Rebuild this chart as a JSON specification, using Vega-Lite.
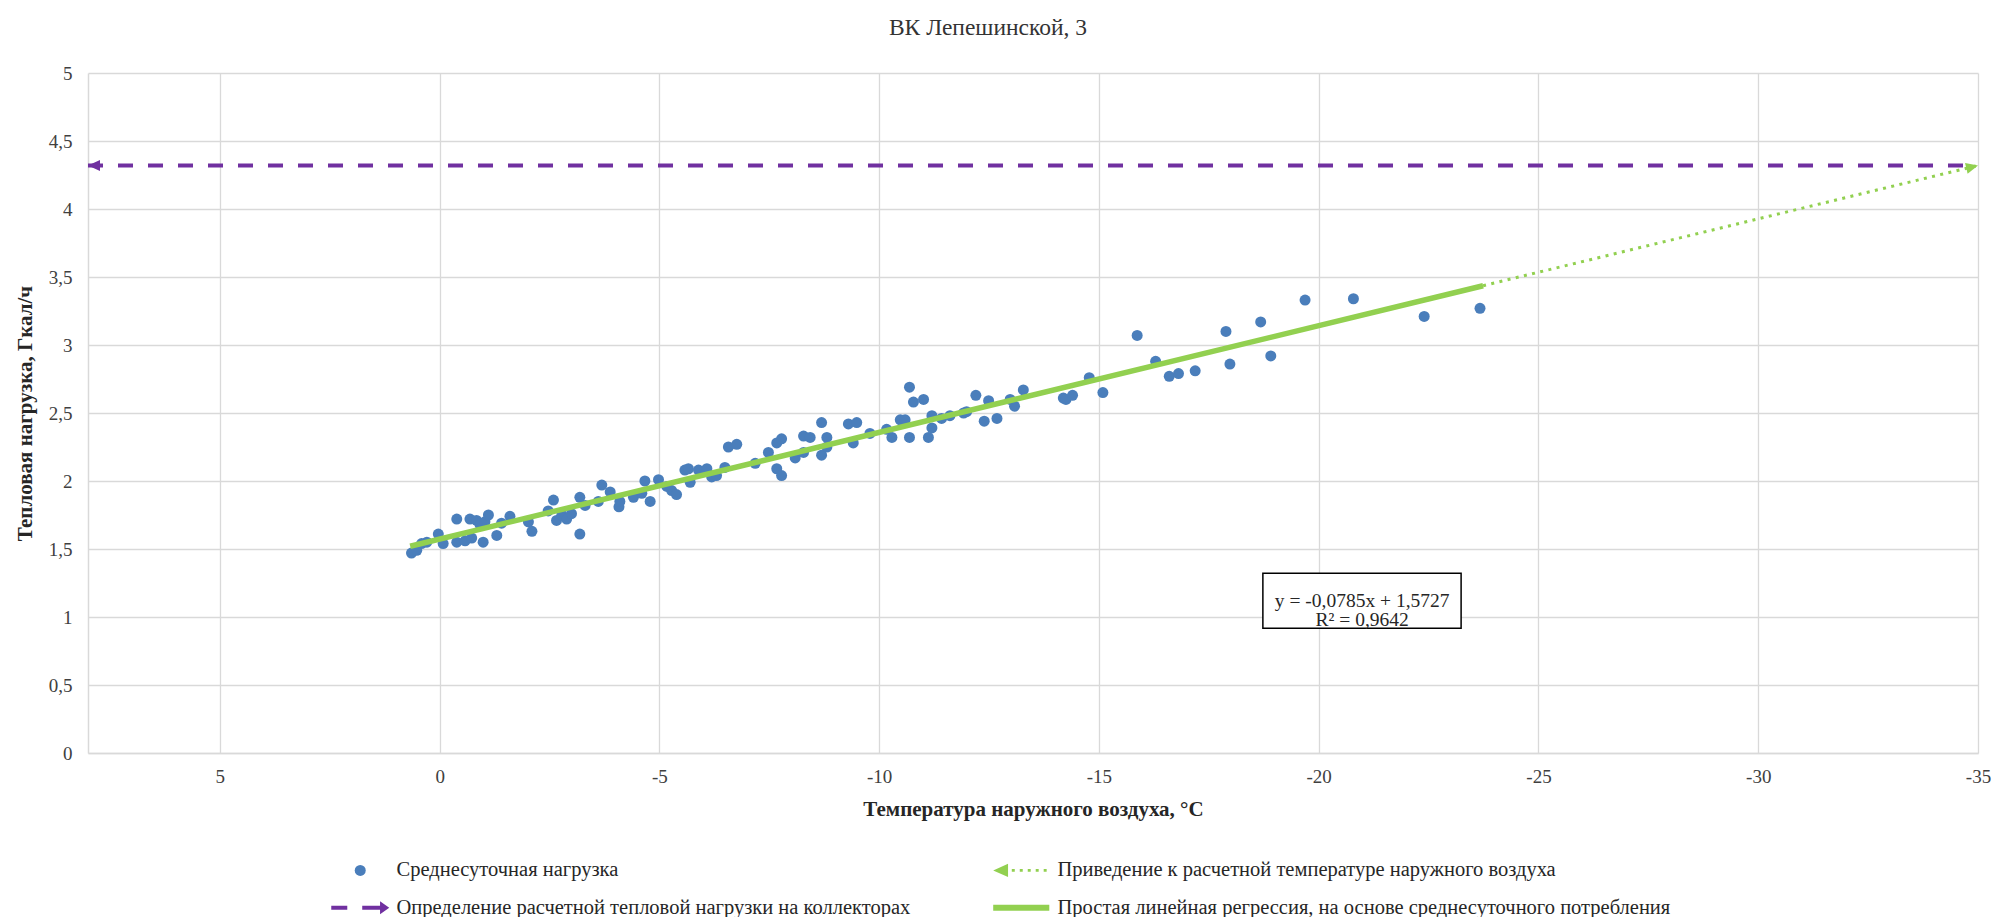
{
  "$schema": "https://vega.github.io/schema/vega-lite/v6.json",
  "autosize": "none",
  "width": 1890,
  "height": 680,
  "padding": {"left": 88, "top": 73, "right": 17, "bottom": 164},
  "background": "white",
  "title": {"text": "ВК Лепешинской, 3", "font": "Liberation Serif", "fontSize": 23.5, "fontWeight": "normal", "color": "#333333", "anchor": "middle", "frame": "group", "offset": 25, "dx": -45},
  "config": {
    "view": {"stroke": null},
    "axis": {"grid": true, "gridColor": "#d9d9d9", "gridWidth": 1.3, "domainColor": "#d9d9d9", "domainWidth": 1.5, "ticks": false, "labelFont": "Liberation Serif", "labelFontSize": 19, "labelColor": "#404040", "titleFont": "Liberation Serif", "titleFontSize": 21, "titleFontWeight": "bold", "titleColor": "#262626"}
  },
  "datasets": {
    "points": [
      {"t": 0.64, "v": 1.47}, {"t": 0.52, "v": 1.49}, {"t": 0.41, "v": 1.54}, {"t": 0.29, "v": 1.55}, {"t": 0.03, "v": 1.61},
      {"t": -0.08, "v": 1.54}, {"t": -0.39, "v": 1.72}, {"t": -0.39, "v": 1.55}, {"t": -0.58, "v": 1.56}, {"t": -0.69, "v": 1.72},
      {"t": -0.73, "v": 1.58}, {"t": -0.84, "v": 1.71}, {"t": -0.92, "v": 1.68}, {"t": -0.99, "v": 1.55}, {"t": -1.03, "v": 1.70},
      {"t": -1.11, "v": 1.75}, {"t": -1.30, "v": 1.60}, {"t": -1.41, "v": 1.69}, {"t": -1.60, "v": 1.74}, {"t": -2.02, "v": 1.70},
      {"t": -2.10, "v": 1.63}, {"t": -2.47, "v": 1.78}, {"t": -2.59, "v": 1.86}, {"t": -2.66, "v": 1.71}, {"t": -2.78, "v": 1.75},
      {"t": -2.89, "v": 1.72}, {"t": -3.00, "v": 1.76}, {"t": -3.19, "v": 1.88}, {"t": -3.19, "v": 1.61}, {"t": -3.31, "v": 1.82},
      {"t": -3.61, "v": 1.85}, {"t": -3.69, "v": 1.97}, {"t": -3.88, "v": 1.92}, {"t": -4.08, "v": 1.81}, {"t": -4.10, "v": 1.85},
      {"t": -4.41, "v": 1.88}, {"t": -4.60, "v": 1.91}, {"t": -4.67, "v": 2.00}, {"t": -4.79, "v": 1.85}, {"t": -4.98, "v": 2.01},
      {"t": -5.17, "v": 1.96}, {"t": -5.28, "v": 1.93}, {"t": -5.39, "v": 1.90}, {"t": -5.58, "v": 2.08}, {"t": -5.66, "v": 2.09},
      {"t": -5.70, "v": 1.99}, {"t": -5.89, "v": 2.08}, {"t": -6.08, "v": 2.09}, {"t": -6.19, "v": 2.03}, {"t": -6.30, "v": 2.04},
      {"t": -6.49, "v": 2.10}, {"t": -6.57, "v": 2.25}, {"t": -6.76, "v": 2.27}, {"t": -7.18, "v": 2.13}, {"t": -7.48, "v": 2.21},
      {"t": -7.67, "v": 2.28}, {"t": -7.67, "v": 2.09}, {"t": -7.78, "v": 2.31}, {"t": -7.78, "v": 2.04}, {"t": -8.09, "v": 2.17},
      {"t": -8.28, "v": 2.33}, {"t": -8.28, "v": 2.21}, {"t": -8.43, "v": 2.32}, {"t": -8.69, "v": 2.43}, {"t": -8.69, "v": 2.19},
      {"t": -8.81, "v": 2.32}, {"t": -8.81, "v": 2.25}, {"t": -9.30, "v": 2.42}, {"t": -9.41, "v": 2.28}, {"t": -9.49, "v": 2.43},
      {"t": -9.79, "v": 2.35}, {"t": -10.17, "v": 2.38}, {"t": -10.29, "v": 2.32}, {"t": -10.48, "v": 2.45}, {"t": -10.59, "v": 2.45},
      {"t": -10.69, "v": 2.69}, {"t": -10.69, "v": 2.32}, {"t": -10.78, "v": 2.58}, {"t": -11.01, "v": 2.60}, {"t": -11.12, "v": 2.32},
      {"t": -11.20, "v": 2.48}, {"t": -11.20, "v": 2.39}, {"t": -11.42, "v": 2.46}, {"t": -11.61, "v": 2.48}, {"t": -11.92, "v": 2.50},
      {"t": -11.99, "v": 2.51}, {"t": -12.20, "v": 2.63}, {"t": -12.39, "v": 2.44}, {"t": -12.49, "v": 2.59}, {"t": -12.68, "v": 2.46},
      {"t": -12.98, "v": 2.60}, {"t": -13.08, "v": 2.55}, {"t": -13.28, "v": 2.67}, {"t": -14.19, "v": 2.61}, {"t": -14.25, "v": 2.60},
      {"t": -14.40, "v": 2.63}, {"t": -14.78, "v": 2.76}, {"t": -15.09, "v": 2.65}, {"t": -15.87, "v": 3.07}, {"t": -16.29, "v": 2.88},
      {"t": -16.60, "v": 2.77}, {"t": -16.81, "v": 2.79}, {"t": -17.19, "v": 2.81}, {"t": -17.89, "v": 3.10}, {"t": -17.98, "v": 2.86},
      {"t": -18.68, "v": 3.17}, {"t": -18.91, "v": 2.92}, {"t": -19.69, "v": 3.33}, {"t": -20.79, "v": 3.34}, {"t": -22.40, "v": 3.21},
      {"t": -23.67, "v": 3.27}
    ],
    "regression": [{"t": 0.67, "v": 1.520}, {"t": -23.74, "v": 3.436}],
    "extension": [{"t": -23.74, "v": 3.436}, {"t": -35, "v": 4.32}],
    "design": [{"t": 8, "v": 4.32}, {"t": -35, "v": 4.32}]
  },
  "layer": [
    {
      "data": {"name": "points"},
      "mark": {"type": "point", "filled": true, "size": 121, "opacity": 1, "strokeWidth": 0},
      "encoding": {
        "x": {"field": "t", "type": "quantitative",
          "scale": {"domain": [-35, 8], "reverse": true, "nice": false, "zero": false},
          "axis": {"values": [5, 0, -5, -10, -15, -20, -25, -30, -35], "labelExpr": "toString(datum.value)", "labelFlush": false, "labelOverlap": false, "labelPadding": 14,
            "title": "Температура наружного воздуха, °C", "titleY": 56, "titleBaseline": "middle"}},
        "y": {"field": "v", "type": "quantitative",
          "scale": {"domain": [0, 5], "nice": false, "zero": false},
          "axis": {"values": [0, 0.5, 1, 1.5, 2, 2.5, 3, 3.5, 4, 4.5, 5], "labelExpr": "replace(toString(datum.value), '.', ',')", "labelFlush": false, "labelOverlap": false, "labelPadding": 16,
            "title": "Тепловая нагрузка, Гкал/ч", "titleX": -63, "titleY": 340, "titleBaseline": "middle", "titleAlign": "center"}},
        "color": {"datum": "Среднесуточная нагрузка", "type": "nominal",
          "scale": {"domain": ["Среднесуточная нагрузка", "Определение расчетной тепловой нагрузки на коллекторах", "Приведение к расчетной температуре наружного воздуха", "Простая линейная регрессия, на основе среднесуточного потребления"],
            "range": ["#4a7ebb", "#7030a0", "#92d050", "#92d050"]},
          "legend": {"orient": "none", "legendX": 262, "legendY": 787, "columns": 2, "title": null, "symbolSize": 121, "labelOffset": 26, "labelFont": "Liberation Serif", "labelFontSize": 20.5, "labelColor": "#262626", "rowPadding": 16.5, "columnPadding": 82, "labelLimit": 0, "symbolStrokeWidth": 0, "padding": 0}},
        "shape": {"datum": "Среднесуточная нагрузка", "type": "nominal",
          "scale": {"domain": ["Среднесуточная нагрузка", "Определение расчетной тепловой нагрузки на коллекторах", "Приведение к расчетной температуре наружного воздуха", "Простая линейная регрессия, на основе среднесуточного потребления"],
            "range": ["circle",
              "M-5.27,-0.36H-2.36V0.36H-5.27Z M0.36,-0.36H3.6V-1.2L5.27,0L3.6,1.2V0.36H0.36Z",
              "M-5.1,0L-2.4,-1.2L-2.4,1.2Z M-1.72,-0.27H-1.18V0.27H-1.72Z M-0.27,-0.27H0.27V0.27H-0.27Z M1.18,-0.27H1.72V0.27H1.18Z M2.63,-0.27H3.17V0.27H2.63Z M4.08,-0.27H4.62V0.27H4.08Z",
              "M-5.1,-0.55H5.1V0.55H-5.1Z"]},
          "legend": {"orient": "none", "legendX": 262, "legendY": 787, "columns": 2, "title": null, "symbolSize": 121, "labelOffset": 26, "labelFont": "Liberation Serif", "labelFontSize": 20.5, "labelColor": "#262626", "rowPadding": 16.5, "columnPadding": 82, "labelLimit": 0, "symbolStrokeWidth": 0, "padding": 0}}
      }
    },
    {
      "data": {"name": "regression"},
      "mark": {"type": "line", "color": "#92d050", "strokeWidth": 5.5, "strokeCap": "butt"},
      "encoding": {"x": {"field": "t", "type": "quantitative"}, "y": {"field": "v", "type": "quantitative"}}
    },
    {
      "data": {"name": "extension"},
      "mark": {"type": "line", "color": "#92d050", "strokeWidth": 3, "strokeDash": [3, 5.4], "strokeCap": "butt"},
      "encoding": {"x": {"field": "t", "type": "quantitative"}, "y": {"field": "v", "type": "quantitative"}}
    },
    {
      "data": {"name": "design"},
      "mark": {"type": "line", "color": "#7030a0", "strokeWidth": 4, "strokeDash": [15, 15], "strokeCap": "butt"},
      "encoding": {"x": {"field": "t", "type": "quantitative"}, "y": {"field": "v", "type": "quantitative"}}
    },
    {
      "data": {"values": [{}]},
      "mark": {"type": "point", "filled": true, "opacity": 1, "strokeWidth": 0, "shape": "M0,0L-2.4,-1.1L-2.4,1.1Z", "size": 100, "angle": -13.66, "color": "#92d050"},
      "encoding": {"x": {"datum": -35}, "y": {"datum": 4.32}}
    },
    {
      "data": {"values": [{}]},
      "mark": {"type": "point", "filled": true, "opacity": 1, "strokeWidth": 0, "shape": "M0,0L2.4,-1.1L2.4,1.1Z", "size": 100, "color": "#7030a0"},
      "encoding": {"x": {"datum": 8}, "y": {"datum": 4.32}}
    },
    {
      "data": {"values": [{}]},
      "mark": {"type": "rect", "fill": "white", "stroke": "#000000", "strokeWidth": 1.5},
      "encoding": {"x": {"datum": -18.73}, "x2": {"datum": -23.24}, "y": {"datum": 1.3226}, "y2": {"datum": 0.918}}
    },
    {
      "data": {"values": [{}]},
      "mark": {"type": "text", "text": ["y = -0,0785x + 1,5727", "R² = 0,9642"], "font": "Liberation Serif", "fontSize": 19.5, "color": "#262626", "align": "center", "baseline": "middle", "lineHeight": 19},
      "encoding": {"x": {"datum": -20.99}, "y": {"datum": 1.117}}
    }
  ]
}
